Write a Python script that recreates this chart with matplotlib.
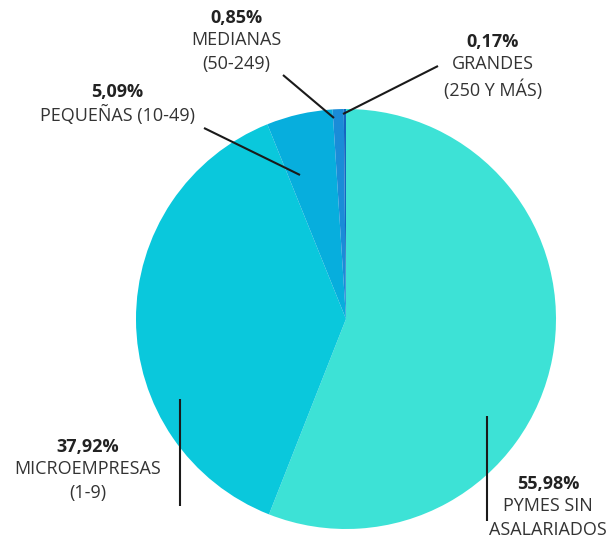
import matplotlib.pyplot as plt

# datos del gráfico
categorias = ["PYMES SIN\nASALARIADOS", "MICROEMPRESAS\n(1-9)", "PEQUEÑAS (10-49)",
              "MEDIANAS\n(50-249)", "GRANDES\n(250 Y MÁS)"]
valores = [55.98, 37.92, 5.09, 0.85, 0.17]
etiquetas = ["55,98%", "37,92%", "5,09%", "0,85%", "0,17%"]
colores = ["#3de2d6", "#0ac8dc", "#07aedd", "#1a8cd8", "#1565c0"]

# posiciones de texto y líneas guía (en píxeles de la imagen)
pos_texto = [(548, 484), (88, 447), (117, 92), (236, 18), (493, 42)]
lineas = [((487, 416), (487, 521)), ((180, 399), (180, 506)), ((204, 128), (300, 175)),
          ((283, 75), (334, 118)), ((438, 66), (343, 114))]

plt.rcParams['font.family'] = ['Open Sans', 'DejaVu Sans']

fig = plt.figure(figsize=(6.13, 5.44), dpi=100)
ax = fig.add_axes([0, 0, 1, 1])

# eje y invertido: el ángulo 270 apunta hacia arriba y el sentido se invierte
ax.pie(valores, colors=colores, startangle=270, counterclock=True,
       center=(346, 319), radius=210, wedgeprops=dict(linewidth=0))

for (p0, p1) in lineas:
    ax.plot([p0[0], p1[0]], [p0[1], p1[1]], color="#1a1a1a", lw=1.5, solid_capstyle='butt')

for (x, y), pct, cat in zip(pos_texto, etiquetas, categorias):
    ax.text(x, y, pct, ha='center', va='center', fontsize=13, fontweight='bold', color="#222222")
    ax.text(x, y + 13, cat, ha='center', va='top', fontsize=13, color="#333333",
            linespacing=1.4)

ax.set_xlim(0, 613)
ax.set_ylim(544, 0)
ax.set_aspect('equal')
ax.axis('off')

fig.savefig("out.png", dpi=100)
